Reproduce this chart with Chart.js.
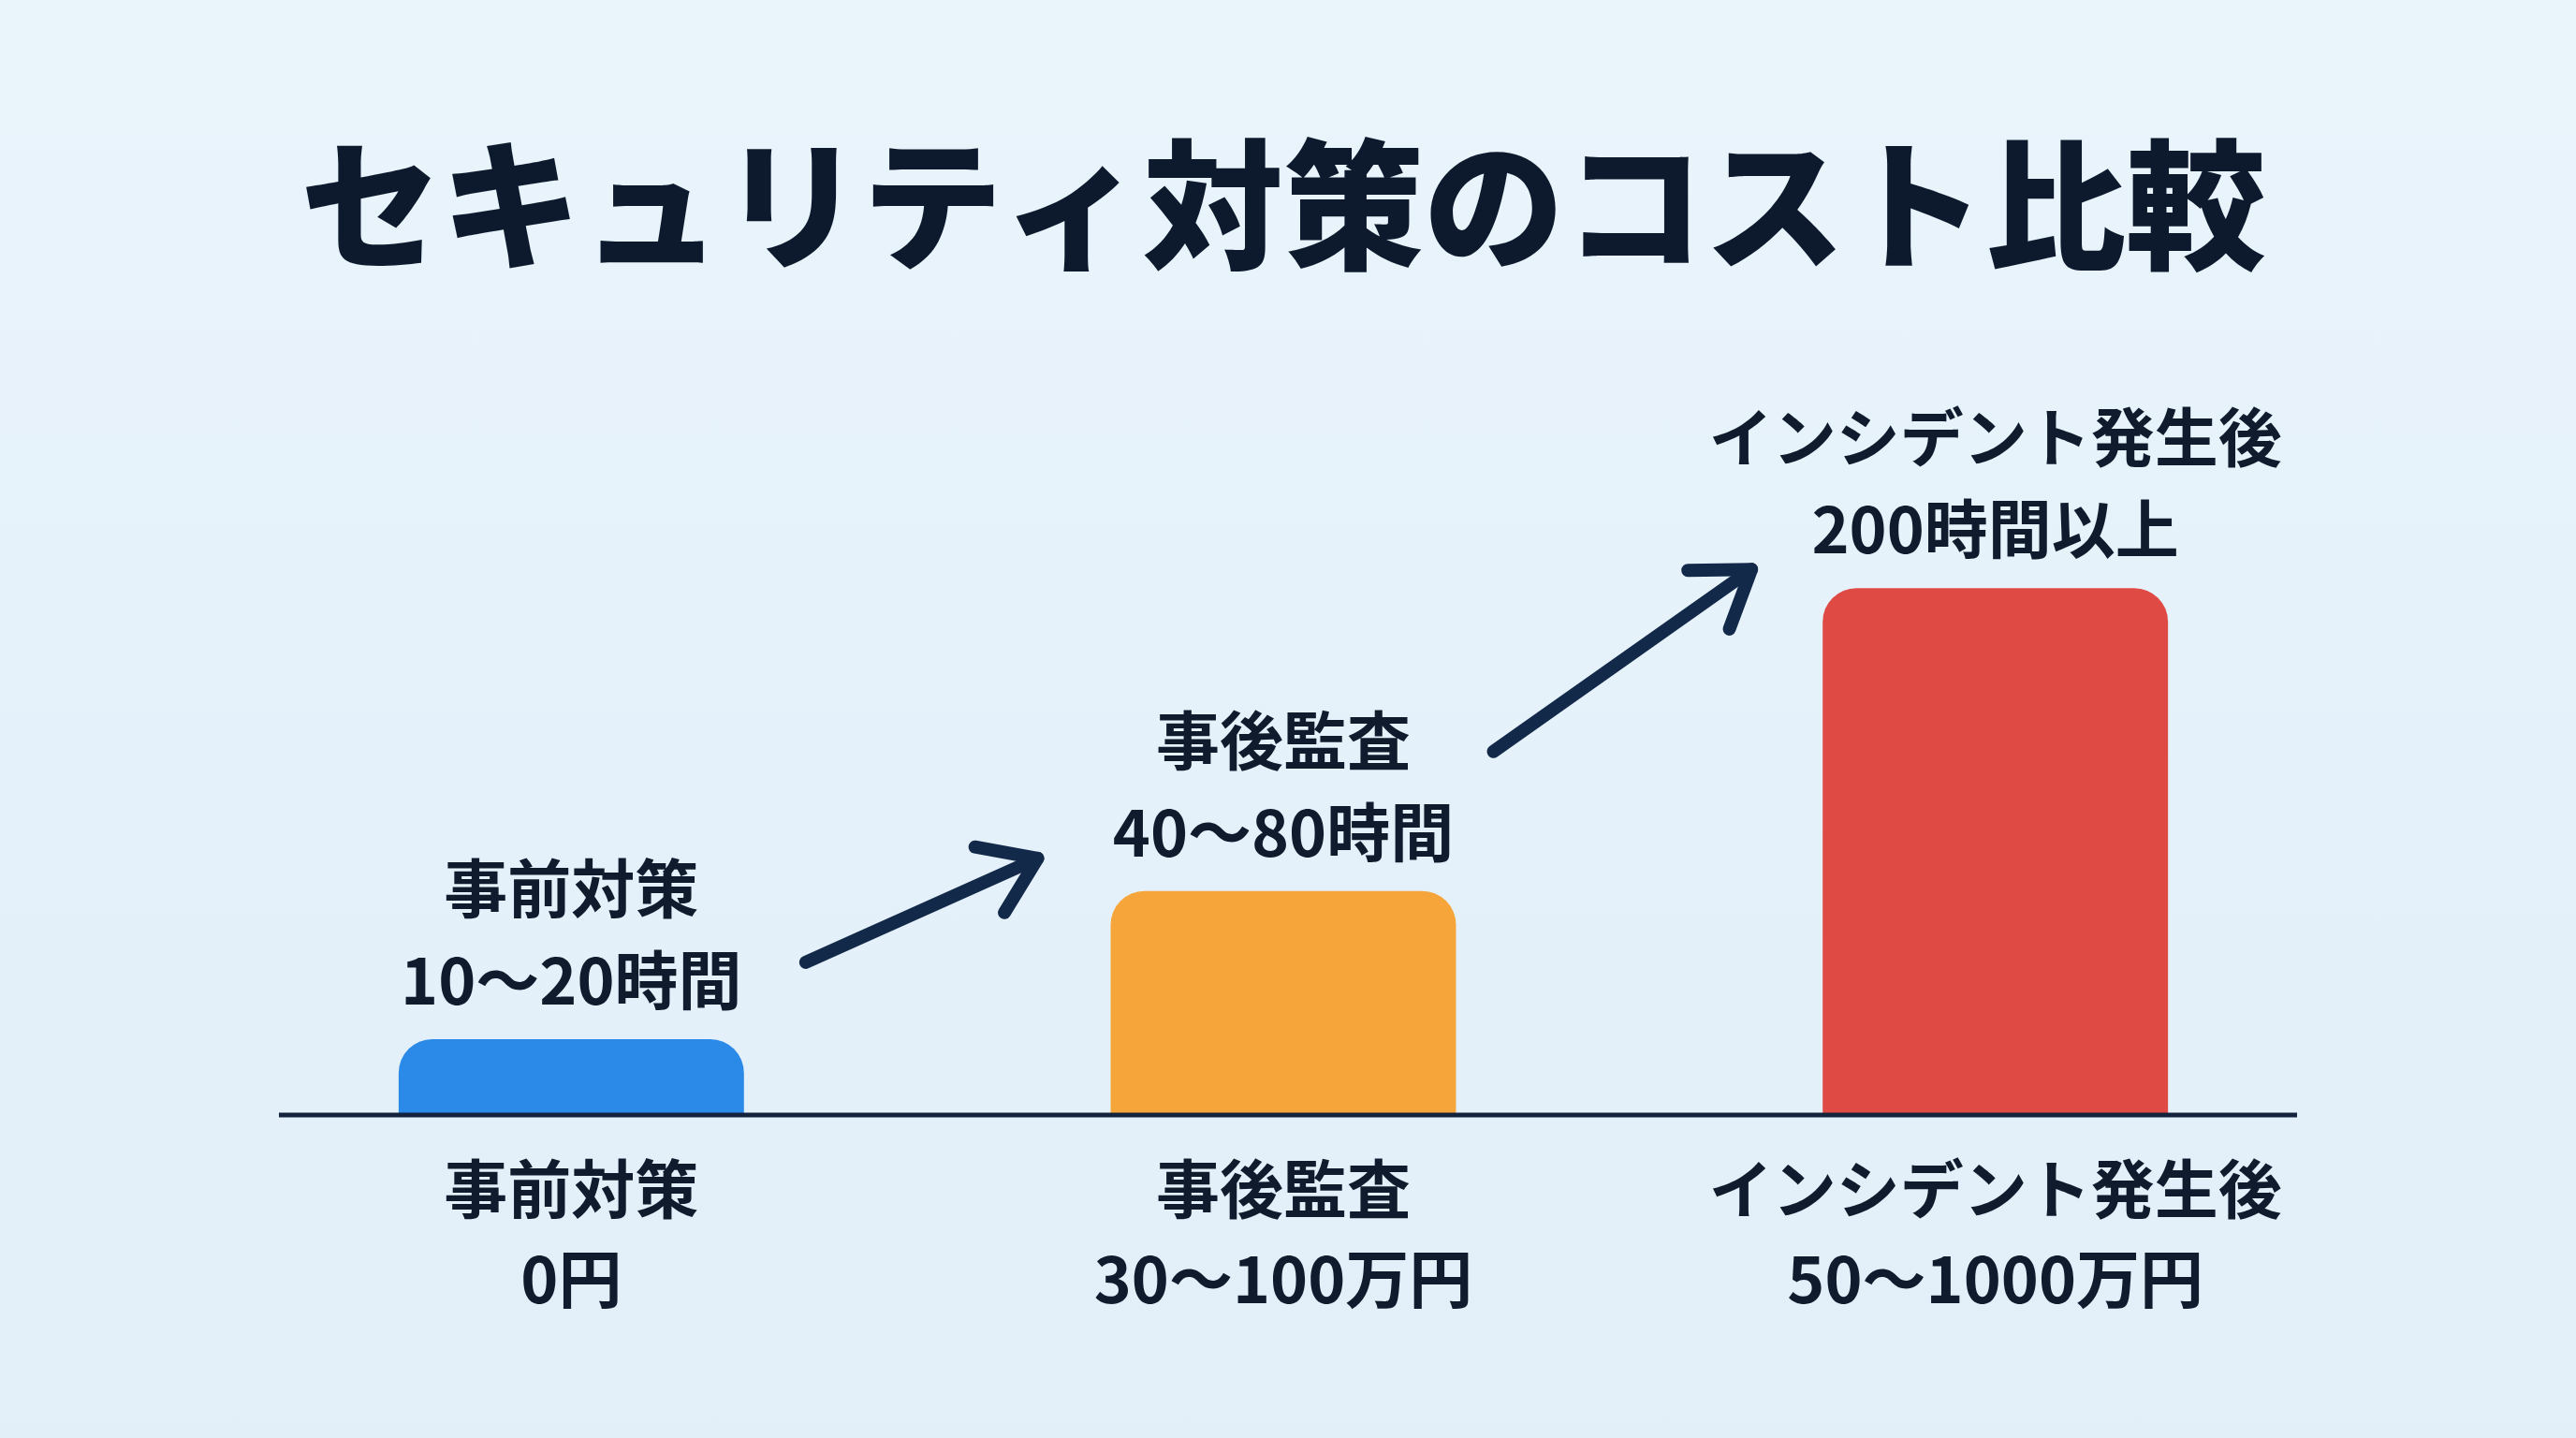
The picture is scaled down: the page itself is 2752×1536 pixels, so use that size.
<!DOCTYPE html>
<html lang="ja">
<head>
<meta charset="utf-8">
<title>セキュリティ対策のコスト比較</title>
<script src="https://cdn.jsdelivr.net/npm/chart.js@4.4.1/dist/chart.umd.min.js"></script>
<style>
  html, body { margin: 0; padding: 0; }
  body {
    width: 2752px; height: 1536px; overflow: hidden;
    background: linear-gradient(180deg, #e9f4fb 0%, #e5f1fa 60%, #e2eff8 100%);
  }
  canvas { display: block; }
</style>
</head>
<body>
<canvas id="costChart" width="2752" height="1536"></canvas>
<script>
// --- data ---
const stageNames = ['事前対策', '事後監査', 'インシデント発生後'];
const costLabels = ['0円', '30〜100万円', '50〜1000万円'];
const hourLabels = ['10〜20時間', '40〜80時間', '200時間以上'];
const barHeights = [14.4, 42.5, 100];   // relative height
const barColors = ['#2b89e8', '#f6a53b', '#e04a44'];

const FONT = '"Noto Sans CJK JP", "Noto Sans", sans-serif';
const INK = '#101c2e';
const ARROW = '#13294a';

// labels above each bar (stage name + hours)
const topLabelPlugin = {
  id: 'topLabels',
  afterDatasetsDraw(chart) {
    const ctx = chart.ctx;
    const meta = chart.getDatasetMeta(0);
    ctx.save();
    ctx.fillStyle = INK;
    ctx.textAlign = 'center';
    ctx.textBaseline = 'middle';
    ctx.font = '700 68px ' + FONT;
    meta.data.forEach((bar, i) => {
      ctx.fillText(stageNames[i], bar.x, bar.y - 161);
      ctx.fillText(hourLabels[i], bar.x, bar.y - 63);
    });
    ctx.restore();
  }
};

// baseline + arrows between bars
const decorPlugin = {
  id: 'decor',
  afterDatasetsDraw(chart) {
    const ctx = chart.ctx;
    const area = chart.chartArea;
    const y0 = chart.scales.y.getPixelForValue(0);
    ctx.save();
    ctx.strokeStyle = '#13233d';
    ctx.lineWidth = 5;
    ctx.beginPath();
    ctx.moveTo(area.left + 68, y0);
    ctx.lineTo(area.right - 58, y0);
    ctx.stroke();

    const bars = chart.getDatasetMeta(0).data;
    // offsets from neighbouring bars: [startDx, startDy, endDx, endDy]
    const arrowOffsets = [[66, -82, -78, -35], [40, -149, -76, -20]];
    arrowOffsets.forEach((o, i) => {
      const a = bars[i], b = bars[i + 1];
      const sx = a.x + a.width / 2 + o[0], sy = a.y + o[1];
      const ex = b.x - b.width / 2 + o[2], ey = b.y + o[3];
      const ang = Math.atan2(ey - sy, ex - sx);
      const head = 68;
      ctx.strokeStyle = ARROW;
      ctx.lineWidth = 14;
      ctx.lineCap = 'round';
      ctx.lineJoin = 'round';
      ctx.beginPath();
      ctx.moveTo(sx, sy);
      ctx.lineTo(ex, ey);
      ctx.stroke();
      ctx.beginPath();
      ctx.moveTo(ex - head * Math.cos(ang - 0.6), ey - head * Math.sin(ang - 0.6));
      ctx.lineTo(ex, ey);
      ctx.lineTo(ex - head * Math.cos(ang + 0.6), ey - head * Math.sin(ang + 0.6));
      ctx.stroke();
    });
    ctx.restore();
  }
};

new Chart(document.getElementById('costChart'), {
  type: 'bar',
  data: {
    labels: stageNames.map((n, i) => [n, costLabels[i]]),
    datasets: [{
      data: barHeights,
      backgroundColor: barColors,
      borderRadius: { topLeft: 36, topRight: 36, bottomLeft: 0, bottomRight: 0 },
      borderSkipped: 'bottom',
      barPercentage: 1,
      categoryPercentage: 0.485
    }]
  },
  options: {
    responsive: false,
    devicePixelRatio: 1,
    animation: false,
    layout: { padding: { left: 230, right: 240, top: 0, bottom: 91 } },
    plugins: {
      legend: { display: false },
      tooltip: { enabled: false },
      title: {
        display: true,
        text: 'セキュリティ対策のコスト比較',
        color: '#0d1a2e',
        font: { family: FONT, size: 150, weight: 900, lineHeight: 1.2 },
        padding: { top: 129, bottom: 94 }
      }
    },
    scales: {
      x: {
        grid: { display: false, drawTicks: false },
        border: { display: false },
        ticks: {
          color: INK,
          padding: 31,
          maxRotation: 0,
          autoSkip: false,
          font: { family: FONT, size: 68, weight: 700, lineHeight: 96 / 68 }
        }
      },
      y: {
        display: false,
        min: 0,
        max: 140
      }
    }
  },
  plugins: [topLabelPlugin, decorPlugin]
});
</script>
</body>
</html>
